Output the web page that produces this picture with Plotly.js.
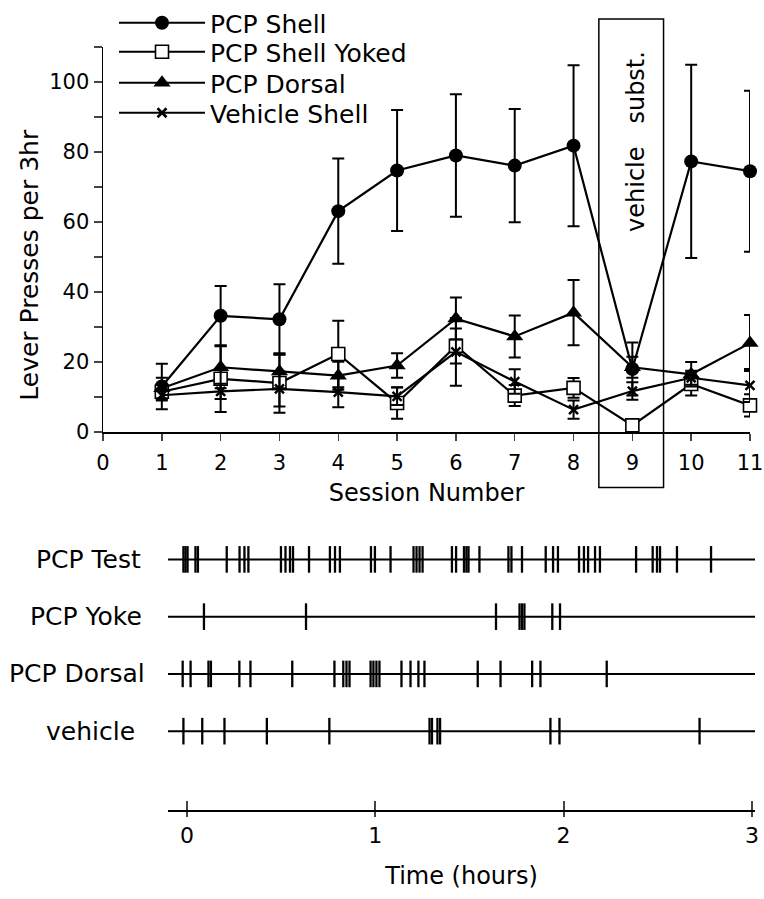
<!DOCTYPE html>
<html><head><meta charset="utf-8">
<script src="https://cdn.plot.ly/plotly-3.0.1.min.js"></script>
<style>html,body{margin:0;padding:0;background:#fff}</style>
</head><body><div id="chart" style="width:764px;height:899px"></div>
<script>
// ---- Top panel data ----
const sessions = [1, 2, 3, 4, 5, 6, 7, 8, 9, 10, 11];
const pcpShell      = [13.0, 33.2, 32.2, 63.1, 74.7, 79.0, 76.1, 81.8, 18.0, 77.3, 74.5];
const pcpShellErr   = [6.5, 8.5, 10.0, 15.0, 17.3, 17.5, 16.2, 23.0, 7.6, 27.6, 23.0];
const pcpYoked      = [11.5, 15.2, 14.0, 22.3, 8.3, 24.6, 10.4, 12.6, 1.9, 13.7, 7.6];
const pcpYokedErr   = [2.0, 9.5, 8.5, 9.5, 4.5, 5.0, 3.0, 2.8, 1.0, 3.3, 3.2];
const pcpDorsal     = [12.5, 18.5, 17.3, 16.1, 19.0, 32.4, 27.3, 34.1, 18.5, 16.5, 25.4];
const pcpDorsalErr  = [3.0, 6.0, 4.8, 4.0, 3.5, 6.0, 6.0, 9.3, 3.0, 3.5, 8.0];
const vehShell      = [10.5, 11.6, 12.3, 11.4, 10.2, 22.9, 14.4, 6.4, 11.7, 15.5, 13.3];
const vehShellErr   = [1.5, 2.2, 5.0, 4.3, 2.5, 9.7, 3.5, 2.6, 2.5, 2.0, 4.7];
const seriesNames = ['PCP Shell', 'PCP Shell Yoked', 'PCP Dorsal', 'Vehicle Shell'];
const yTickVals = [0, 10, 20, 30, 40, 50, 60, 70, 80, 90, 100, 110];
const yTickText = ['0', '', '20', '', '40', '', '60', '', '80', '', '100', ''];
const xTickVals = [0, 1, 2, 3, 4, 5, 6, 7, 8, 9, 10, 11];
const substSession = 9;
const substLabel = 'vehicle\u00a0\u00a0\u00a0subst.';

// ---- Bottom panel (event records, hours) ----
const rasterLabels = ['PCP Test', 'PCP Yoke', 'PCP Dorsal', 'vehicle'];
const pcpTestTimes = [-0.019, -0.008, 0.003, 0.045, 0.058, 0.211, 0.279, 0.305, 0.326, 0.499, 0.523, 0.547, 0.563,
  0.648, 0.759, 0.786, 0.812, 0.977, 0.998, 1.081, 1.203, 1.219, 1.235, 1.251, 1.407, 1.429, 1.471, 1.484, 1.495,
  1.553, 1.707, 1.723, 1.779, 1.905, 1.944, 1.970, 2.082, 2.108, 2.130, 2.167, 2.193, 2.385, 2.473, 2.496, 2.512,
  2.602, 2.783];
const pcpYokeTimes = [0.090, 0.632, 1.641, 1.766, 1.779, 1.792, 1.940, 1.981];
const pcpDorsalTimes = [-0.023, 0.019, 0.114, 0.127, 0.278, 0.337, 0.559, 0.783, 0.830, 0.847, 0.863, 0.975, 0.990,
  1.006, 1.022, 1.139, 1.187, 1.229, 1.261, 1.544, 1.665, 1.833, 1.877, 2.229];
const vehicleTimes = [-0.019, 0.081, 0.199, 0.424, 0.756, 1.288, 1.301, 1.330, 1.344, 1.930, 1.978, 2.722];
const rasterTimes = [pcpTestTimes, pcpYokeTimes, pcpDorsalTimes, vehicleTimes];
const timeTickVals = [0, 1, 2, 3];

// ---- Style ----
const FONT = 'DejaVu Sans, Verdana, sans-serif';
const W = 764, H = 899;
const px = v => v / W;
const py = v => (H - v) / H;

const errStyle = arr => ({type: 'data', array: arr, visible: true, color: '#000', thickness: 2, width: 6});
const legendIds = ['legend', 'legend2', 'legend3', 'legend4'];
const markerStyles = [
  {symbol: 'circle', size: 14, color: '#000'},
  {symbol: 'square', size: 13, color: '#fff', line: {color: '#000', width: 1.6}},
  {symbol: 'triangle-up', size: 15, color: '#000'},
  {symbol: 'x-thin', size: 9, color: '#000', line: {color: '#000', width: 2.5}}
];
const seriesY = [pcpShell, pcpYoked, pcpDorsal, vehShell];
const seriesErr = [pcpShellErr, pcpYokedErr, pcpDorsalErr, vehShellErr];
const traces = seriesY.map((y, i) => ({
  x: sessions, y: y, error_y: errStyle(seriesErr[i]), name: seriesNames[i], mode: 'lines+markers',
  legend: legendIds[i], cliponaxis: false,
  line: {color: '#000', width: 2.2}, marker: markerStyles[i]
}));

const rowY = rasterLabels.map((_, i) => rasterLabels.length - 1 - i);
rasterTimes.forEach((times, i) => {
  traces.push({
    x: times, y: times.map(() => rowY[i]), xaxis: i === 3 ? 'x3' : 'x2', yaxis: 'y2',
    mode: 'markers', showlegend: false, hoverinfo: 'skip', cliponaxis: false,
    marker: {symbol: 'line-ns-open', size: 19, color: '#000', line: {color: '#000', width: 2.3}}
  });
});

const shapes = rowY.map(y => ({type: 'line', xref: 'x2 domain', yref: 'y2', x0: 0, x1: 1, y0: y, y1: y,
  line: {color: '#000', width: 2}}));
shapes.push({type: 'rect', xref: 'x', yref: 'paper', x0: substSession - 0.57, x1: substSession + 0.53,
  y0: py(487), y1: py(18), line: {color: '#000', width: 1.5}, fillcolor: 'rgba(0,0,0,0)'});

const labelRight = [143, 144, 147, 137];
const annotations = rasterLabels.map((t, i) => ({text: t, xref: 'paper', yref: 'y2', x: px(labelRight[i]), y: rowY[i],
  xanchor: 'right', yanchor: 'middle', showarrow: false, font: {family: FONT, size: 25, color: '#000'}}));
annotations.push({text: 'Lever Presses per 3hr', xref: 'paper', yref: 'paper', x: px(30), y: py(264), textangle: -90,
  xanchor: 'center', yanchor: 'middle', showarrow: false, font: {family: FONT, size: 25, color: '#000'}});
annotations.push({text: substLabel, xref: 'x', yref: 'y', x: substSession + 0.07, y: 83, textangle: -90,
  xanchor: 'center', yanchor: 'middle', showarrow: false, font: {family: FONT, size: 24, color: '#000'}});

const x2Range = [(168 - 187) / 188.3, (755 - 187) / 188.3];
const y2Range = [-(810 - 731) / 57.33, 3 + (559 - 540) / 57.33];

const legendRowY = [22, 52, 83, 113];
const layout = {
  width: W, height: H, margin: {l: 0, r: 0, t: 0, b: 0},
  paper_bgcolor: '#fff', plot_bgcolor: 'rgba(0,0,0,0)',
  font: {family: FONT, size: 21, color: '#000'},
  showlegend: true,
  xaxis: {domain: [px(103), px(750)], range: [0, 11], tickvals: xTickVals, ticks: 'outside', ticklen: 7,
    tickwidth: 1.5, showline: true, linewidth: 1.5, linecolor: '#000', showgrid: false, zeroline: false,
    ticklabelstandoff: 4,
    tickfont: {size: 21}, title: {text: 'Session Number', font: {size: 24}, standoff: 10}, anchor: 'y'},
  yaxis: {domain: [py(431.5), py(46)], range: [0, 110], tickvals: yTickVals, ticktext: yTickText, ticks: 'outside',
    ticklen: 8, tickwidth: 1.5, showline: true, linewidth: 1.5, linecolor: '#000', showgrid: false, zeroline: false,
    tickfont: {size: 21}, anchor: 'x'},
  xaxis2: {domain: [px(168), px(755)], range: x2Range, anchor: 'y2', tickvals: timeTickVals, ticks: 'outside',
    ticklen: 5, tickwidth: 2, showline: true, linewidth: 2, linecolor: '#000', showgrid: false, zeroline: false,
    tickfont: {size: 22}, title: {text: 'Time (hours)', font: {size: 24}, standoff: 20}},
  xaxis3: {overlaying: 'x2', range: x2Range, anchor: 'y2', side: 'bottom', tickvals: timeTickVals, ticks: 'inside',
    ticklen: 9, tickwidth: 2, showticklabels: false, showline: false, showgrid: false, zeroline: false},
  yaxis2: {domain: [py(810), py(540)], range: y2Range, visible: false, anchor: 'x2'},
  shapes: shapes,
  annotations: annotations
};
legendIds.forEach((id, i) => {
  layout[id] = {x: px(114), y: py(legendRowY[i]), xanchor: 'left', yanchor: 'middle', bgcolor: 'rgba(255,255,255,0)',
    font: {family: FONT, size: 25, color: '#000'}, itemwidth: 86};
});

Plotly.newPlot('chart', traces, layout, {displayModeBar: false, staticPlot: true});
</script>
</body></html>
